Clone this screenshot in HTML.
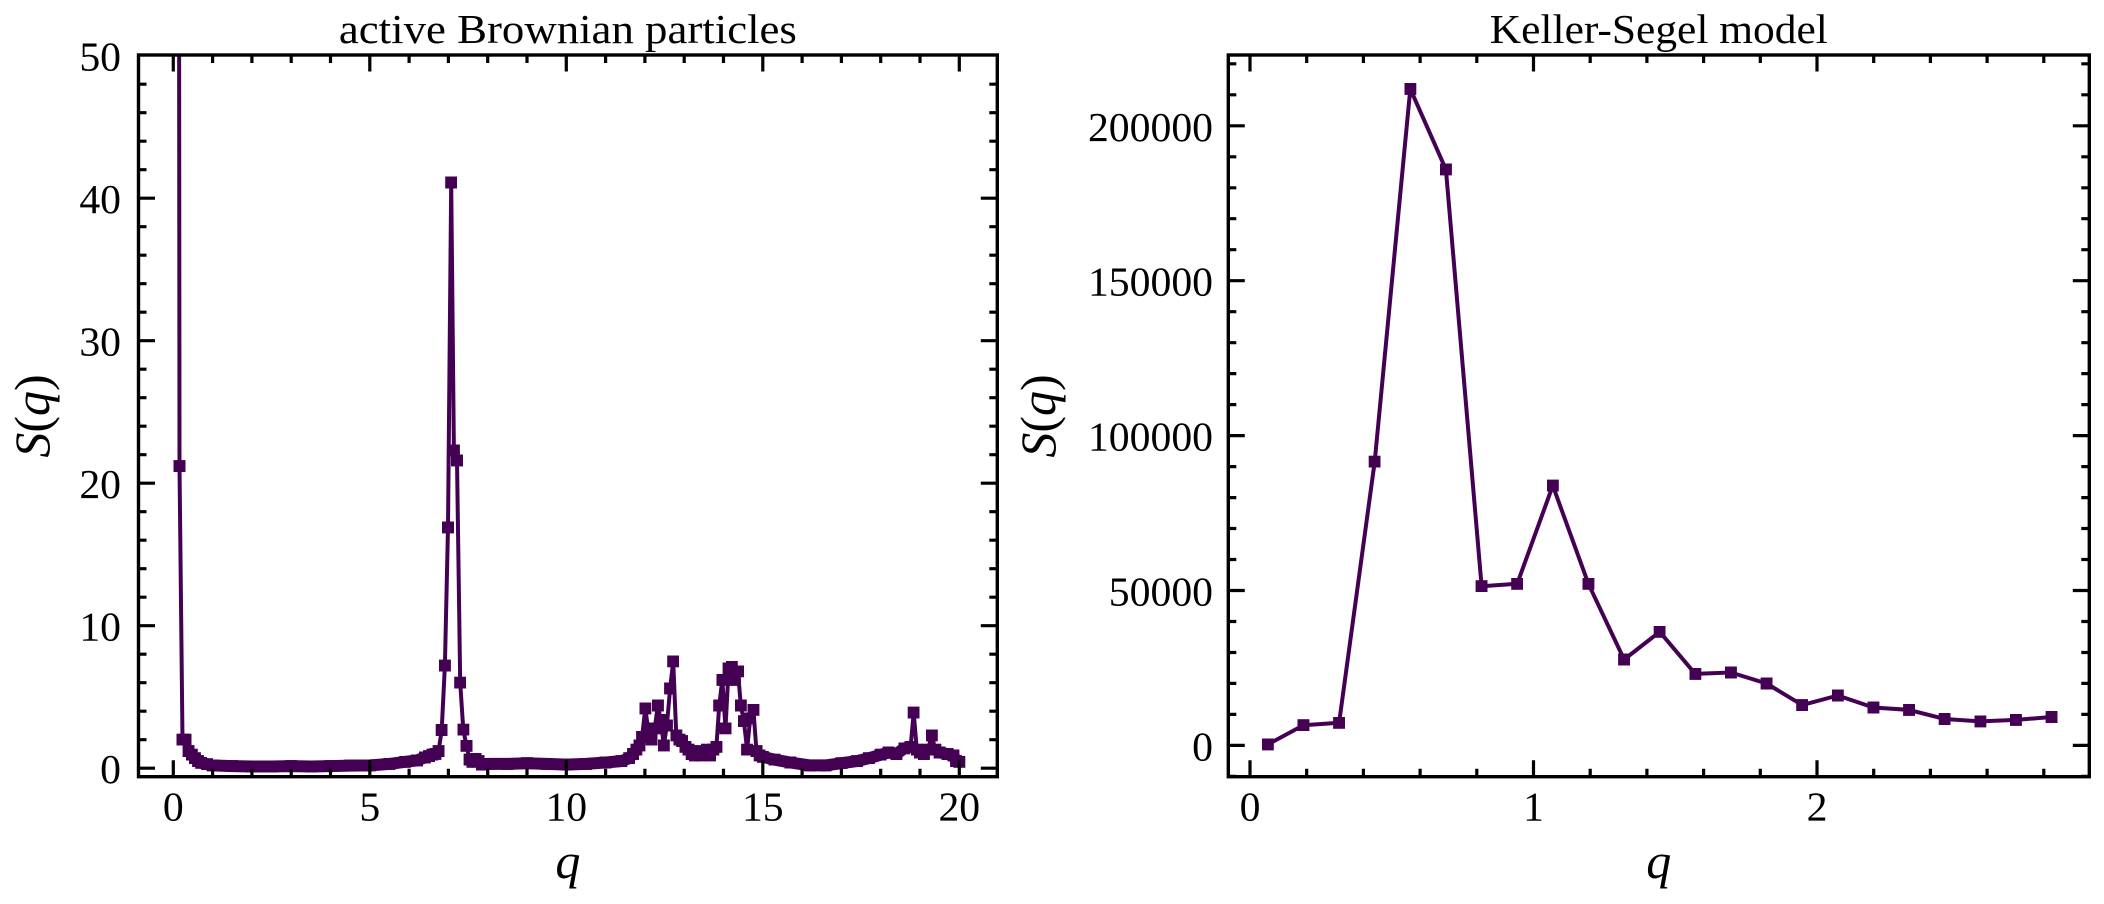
<!DOCTYPE html>
<html>
<head>
<meta charset="utf-8">
<style>
html,body{margin:0;padding:0;background:#fff;}
svg{display:block;}
text{font-family:"Liberation Serif","DejaVu Serif",serif;fill:#000;}
</style>
</head>
<body>
<svg width="2104" height="904" viewBox="0 0 2104 904" xmlns="http://www.w3.org/2000/svg">
<defs>
  <marker id="sq" viewBox="0 0 12 12" refX="6" refY="6" markerWidth="12" markerHeight="12" markerUnits="userSpaceOnUse" orient="0">
    <rect x="0" y="0" width="12" height="12" fill="#440154"/>
  </marker>
  <clipPath id="cl"><rect x="138.5" y="55" width="858.8" height="721.7"/></clipPath>
  <clipPath id="cr"><rect x="1228.3" y="55" width="861" height="721.7"/></clipPath>
</defs>
<rect width="2104" height="904" fill="#fff"/>

<!-- LEFT SERIES -->
<g clip-path="url(#cl)">
  <g fill="none" stroke="#440154" stroke-width="12" stroke-linejoin="round" stroke-linecap="butt">
    <polyline points="198.1,761.1 201.2,762.8 207.1,764.2 212.6,765.4 232.3,766.1 251.9,766.5 271.6,766.5 291.2,766.1 310.9,766.5 330.5,766.1 350.2,765.6 369.8,765.4 389.5,763.9 405.2,761.8 417.0,760.4 424.8,757.5 429.1,756.1 432.3,754.7 435.4,753.9 438.6,751.1"/>
    <polyline points="469.6,759.6 472.4,761.8 475.5,758.9 478.6,761.1 481.8,764.6 487.7,763.9 507.4,763.9 527.0,763.2 546.7,763.9 566.3,764.6 586.0,763.9 605.6,762.5 621.3,761.1 629.2,758.2 633.1,754.0 636.3,749.7"/>
    <polyline points="759.7,755.4 762.8,756.8 774.6,759.7 790.3,762.5 810.0,765.4 825.7,765.4 841.4,763.2 857.1,761.1 868.9,758.2 880.7,754.7 888.6,752.5 896.4,754.0 904.3,748.3 910.6,746.8"/>
    <polyline points="935.3,749.7 939.6,752.5 947.5,754.0 953.4,755.4 956.1,761.1 959.3,761.8"/>
  </g>
  <polyline fill="none" stroke="#440154" stroke-width="4" stroke-linejoin="round"
    marker-start="url(#sq)" marker-mid="url(#sq)" marker-end="url(#sq)"
    points="178.8,-300 179.5,466.1 182.5,739.7 185.6,739.7 188.6,751.1 191.8,754.7 194.9,758.2 198.1,761.1 201.2,762.8 207.1,764.2 212.6,765.4 232.3,766.1 251.9,766.5 271.6,766.5 291.2,766.1 310.9,766.5 330.5,766.1 350.2,765.6 369.8,765.4 389.5,763.9 405.2,761.8 417.0,760.4 424.8,757.5 429.1,756.1 432.3,754.7 435.4,753.9 438.6,751.1 441.7,730.0 444.9,665.6 448.0,527.4 451.2,182.5 453.9,450.4 457.0,460.4 460.2,682.7 463.3,729.7 466.5,745.8 469.6,759.6 472.4,761.8 475.5,758.9 478.6,761.1 481.8,764.6 487.7,763.9 507.4,763.9 527.0,763.2 546.7,763.9 566.3,764.6 586.0,763.9 605.6,762.5 621.3,761.1 629.2,758.2 633.1,754.0 636.3,749.7 639.4,745.4 642.1,736.9 645.3,708.4 648.4,731.1 651.6,739.7 654.7,728.3 657.9,705.5 660.6,719.8 663.8,745.4 666.9,725.5 670.1,688.4 673.2,661.3 676.3,735.4 679.5,739.7 682.2,741.1 685.4,746.8 688.5,749.7 691.7,754.0 694.8,755.4 698.0,751.1 700.7,755.4 703.9,754.0 707.0,749.7 710.1,755.4 713.3,749.7 716.4,746.8 719.2,705.5 722.3,679.9 725.5,728.3 728.6,668.5 731.8,667.0 734.9,679.9 738.0,671.3 740.8,705.5 743.9,721.2 747.1,749.7 750.2,718.3 753.4,709.8 756.5,751.1 759.7,755.4 762.8,756.8 774.6,759.7 790.3,762.5 810.0,765.4 825.7,765.4 841.4,763.2 857.1,761.1 868.9,758.2 880.7,754.7 888.6,752.5 896.4,754.0 904.3,748.3 910.6,746.8 913.7,712.6 916.8,749.7 920.0,752.5 923.9,754.0 927.9,749.7 931.8,735.4 935.3,749.7 939.6,752.5 947.5,754.0 953.4,755.4 956.1,761.1 959.3,761.8"/>
</g>

<!-- RIGHT SERIES -->
<g clip-path="url(#cr)">
  <polyline fill="none" stroke="#440154" stroke-width="4" stroke-linejoin="round"
    marker-start="url(#sq)" marker-mid="url(#sq)" marker-end="url(#sq)"
    points="1267.8,744.4 1303.4,725.2 1339.1,722.8 1374.7,461.7 1410.3,88.9 1445.9,169.4 1481.6,586.2 1517.2,583.8 1552.8,485.6 1588.4,583.8 1624.1,659.5 1659.7,631.8 1695.3,673.9 1730.9,672.5 1766.6,683.5 1802.2,705.1 1837.8,695.5 1873.4,707.5 1909.1,709.9 1944.7,719.0 1980.3,721.4 2015.9,719.9 2051.6,717.0"/>
</g>

<!-- LEFT AXES FRAME & TICKS -->
<g stroke="#000" stroke-width="3.2" fill="none">
  <rect x="138.5" y="55" width="858.8" height="721.7" stroke-width="3.4"/>
  <!-- x major bottom & top -->
  <path d="M173.3,776.7V760.2M369.8,776.7V760.2M566.3,776.7V760.2M762.8,776.7V760.2M959.3,776.7V760.2
           M173.3,55V71.5M369.8,55V71.5M566.3,55V71.5M762.8,55V71.5M959.3,55V71.5"/>
  <!-- x minor -->
  <path d="M212.6,776.7V768.7M251.9,776.7V768.7M291.2,776.7V768.7M330.5,776.7V768.7M409.1,776.7V768.7M448.4,776.7V768.7M487.7,776.7V768.7M527.0,776.7V768.7M605.6,776.7V768.7M644.9,776.7V768.7M684.2,776.7V768.7M723.5,776.7V768.7M802.1,776.7V768.7M841.4,776.7V768.7M880.7,776.7V768.7M920.0,776.7V768.7
           M212.6,55V63M251.9,55V63M291.2,55V63M330.5,55V63M409.1,55V63M448.4,55V63M487.7,55V63M527.0,55V63M605.6,55V63M644.9,55V63M684.2,55V63M723.5,55V63M802.1,55V63M841.4,55V63M880.7,55V63M920.0,55V63"/>
  <!-- y major left & right -->
  <path d="M138.5,768.2H155M138.5,625.7H155M138.5,483.2H155M138.5,340.7H155M138.5,198.2H155
           M997.3,768.2H980.8M997.3,625.7H980.8M997.3,483.2H980.8M997.3,340.7H980.8M997.3,198.2H980.8"/>
  <!-- y minor -->
  <path d="M138.5,739.7H146.5M138.5,711.2H146.5M138.5,682.7H146.5M138.5,654.2H146.5M138.5,597.2H146.5M138.5,568.7H146.5M138.5,540.2H146.5M138.5,511.7H146.5M138.5,454.7H146.5M138.5,426.2H146.5M138.5,397.7H146.5M138.5,369.2H146.5M138.5,312.2H146.5M138.5,283.7H146.5M138.5,255.2H146.5M138.5,226.7H146.5M138.5,169.7H146.5M138.5,141.2H146.5M138.5,112.7H146.5M138.5,84.2H146.5
           M997.3,739.7H989.3M997.3,711.2H989.3M997.3,682.7H989.3M997.3,654.2H989.3M997.3,597.2H989.3M997.3,568.7H989.3M997.3,540.2H989.3M997.3,511.7H989.3M997.3,454.7H989.3M997.3,426.2H989.3M997.3,397.7H989.3M997.3,369.2H989.3M997.3,312.2H989.3M997.3,283.7H989.3M997.3,255.2H989.3M997.3,226.7H989.3M997.3,169.7H989.3M997.3,141.2H989.3M997.3,112.7H989.3M997.3,84.2H989.3"/>
</g>

<!-- RIGHT AXES FRAME & TICKS -->
<g stroke="#000" stroke-width="3.2" fill="none">
  <rect x="1228.3" y="55" width="861" height="721.7" stroke-width="3.4"/>
  <path d="M1250,776.7V760.2M1533.5,776.7V760.2M1817,776.7V760.2
           M1250,55V71.5M1533.5,55V71.5M1817,55V71.5"/>
  <path d="M1306.7,776.7V768.7M1363.4,776.7V768.7M1420.1,776.7V768.7M1476.8,776.7V768.7M1590.2,776.7V768.7M1646.9,776.7V768.7M1703.6,776.7V768.7M1760.3,776.7V768.7M1873.7,776.7V768.7M1930.4,776.7V768.7M1987.1,776.7V768.7M2043.8,776.7V768.7
           M1306.7,55V63M1363.4,55V63M1420.1,55V63M1476.8,55V63M1590.2,55V63M1646.9,55V63M1703.6,55V63M1760.3,55V63M1873.7,55V63M1930.4,55V63M1987.1,55V63M2043.8,55V63"/>
  <path d="M1228.3,745.4H1244.8M1228.3,590.5H1244.8M1228.3,435.6H1244.8M1228.3,280.7H1244.8M1228.3,125.8H1244.8
           M2089.3,745.4H2072.8M2089.3,590.5H2072.8M2089.3,435.6H2072.8M2089.3,280.7H2072.8M2089.3,125.8H2072.8"/>
  <path d="M1228.3,776.4H1236.3M1228.3,714.4H1236.3M1228.3,683.4H1236.3M1228.3,652.5H1236.3M1228.3,621.5H1236.3M1228.3,559.5H1236.3M1228.3,528.5H1236.3M1228.3,497.6H1236.3M1228.3,466.6H1236.3M1228.3,404.6H1236.3M1228.3,373.6H1236.3M1228.3,342.7H1236.3M1228.3,311.7H1236.3M1228.3,249.7H1236.3M1228.3,218.7H1236.3M1228.3,187.8H1236.3M1228.3,156.8H1236.3M1228.3,94.8H1236.3M1228.3,63.8H1236.3
           M2089.3,776.4H2081.3M2089.3,714.4H2081.3M2089.3,683.4H2081.3M2089.3,652.5H2081.3M2089.3,621.5H2081.3M2089.3,559.5H2081.3M2089.3,528.5H2081.3M2089.3,497.6H2081.3M2089.3,466.6H2081.3M2089.3,404.6H2081.3M2089.3,373.6H2081.3M2089.3,342.7H2081.3M2089.3,311.7H2081.3M2089.3,249.7H2081.3M2089.3,218.7H2081.3M2089.3,187.8H2081.3M2089.3,156.8H2081.3M2089.3,94.8H2081.3M2089.3,63.8H2081.3"/>
</g>

<!-- TITLES -->
<text x="567.9" y="43" font-size="41.7" text-anchor="middle" textLength="458" lengthAdjust="spacingAndGlyphs">active Brownian particles</text>
<text x="1658.8" y="43" font-size="41.7" text-anchor="middle" textLength="338" lengthAdjust="spacingAndGlyphs">Keller-Segel model</text>

<!-- LEFT TICK LABELS -->
<g font-size="41.7" text-anchor="end">
  <text x="121" y="783.2">0</text>
  <text x="121" y="640.7">10</text>
  <text x="121" y="498.2">20</text>
  <text x="121" y="355.7">30</text>
  <text x="121" y="213.2">40</text>
  <text x="121" y="70.7">50</text>
</g>
<g font-size="41.7" text-anchor="middle">
  <text x="173.3" y="820.5">0</text>
  <text x="369.8" y="820.5">5</text>
  <text x="566.3" y="820.5">10</text>
  <text x="762.8" y="820.5">15</text>
  <text x="959.3" y="820.5">20</text>
</g>

<!-- RIGHT TICK LABELS -->
<g font-size="41.7" text-anchor="end">
  <text x="1213" y="760.4">0</text>
  <text x="1213" y="605.5">50000</text>
  <text x="1213" y="450.6">100000</text>
  <text x="1213" y="295.7">150000</text>
  <text x="1213" y="140.8">200000</text>
</g>
<g font-size="41.7" text-anchor="middle">
  <text x="1250" y="820.5">0</text>
  <text x="1533.5" y="820.5">1</text>
  <text x="1817" y="820.5">2</text>
</g>

<!-- AXIS LABELS -->
<text x="567.9" y="878" font-size="50" font-style="italic" text-anchor="middle">q</text>
<text x="1658.8" y="878" font-size="50" font-style="italic" text-anchor="middle">q</text>
<text transform="translate(49,416) rotate(-90)" font-size="50" text-anchor="middle"><tspan font-style="italic">S</tspan>(<tspan font-style="italic">q</tspan>)</text>
<text transform="translate(1055,416) rotate(-90)" font-size="50" text-anchor="middle"><tspan font-style="italic">S</tspan>(<tspan font-style="italic">q</tspan>)</text>
</svg>
</body>
</html>
